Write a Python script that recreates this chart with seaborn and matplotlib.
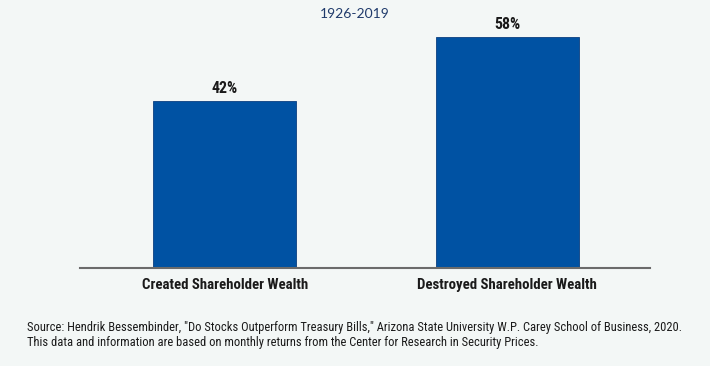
import matplotlib
matplotlib.use('Agg')
import matplotlib.pyplot as plt
import seaborn as sns
import pandas as pd

categories = ['Created Shareholder Wealth', 'Destroyed Shareholder Wealth']
values = [42, 58]
value_labels = ['42%', '58%']
title = '1926-2019'
source_lines = [
    'Source: Hendrik Bessembinder, "Do Stocks Outperform Treasury Bills," Arizona State University '
    'W.P. Carey School of Business, 2020.',
    'This data and information are based on monthly returns from the Center for Research in Security Prices.',
]

bg = '#f3f7f6'
bar_color = '#0052a3'

sns.set_style('white')
plt.rcParams['font.family'] = ['Roboto Condensed', 'DejaVu Sans']

df = pd.DataFrame({'category': categories, 'value': values})

fig = plt.figure(figsize=(7.1, 3.66), dpi=100, facecolor=bg)
ax = fig.add_axes([0.1127, 0.2678, 0.8028, 0.677])
ax.set_facecolor(bg)

sns.barplot(data=df, x='category', y='value', color=bar_color, width=0.507,
            saturation=1, edgecolor='#0a3f80', linewidth=0.6, ax=ax)

ax.set_xlim(-0.514, 1.507)
ax.set_ylim(0, 62.3)

for i, (v, lab) in enumerate(zip(values, value_labels)):
    ax.text(i, v + 1.3, lab, ha='center', va='bottom', fontsize=11.5,
            fontweight='bold', color='#1a1a1a')

for s in ['top', 'right', 'left']:
    ax.spines[s].set_visible(False)
ax.spines['bottom'].set_color('#6b6b6b')
ax.spines['bottom'].set_linewidth(1.5)
ax.set_yticks([])
ax.tick_params(axis='x', length=0, pad=7)
for t in ax.get_xticklabels():
    t.set_fontsize(10.7)
    t.set_fontweight('bold')
    t.set_color('#1a1a1a')
ax.set_xlabel('')
ax.set_ylabel('')

fig.text(0.5, 0.963, title, ha='center', va='center', fontsize=10,
         color='#1f3a6b', family=['Lato', 'DejaVu Sans'])

fig.text(0.038, 1 - 331 / 366, source_lines[0], ha='left', va='baseline',
         fontsize=9, color='#1a1a1a')
fig.text(0.038, 1 - 346 / 366, source_lines[1], ha='left', va='baseline',
         fontsize=9, color='#1a1a1a')

plt.savefig('out.png', dpi=100, facecolor=bg)
